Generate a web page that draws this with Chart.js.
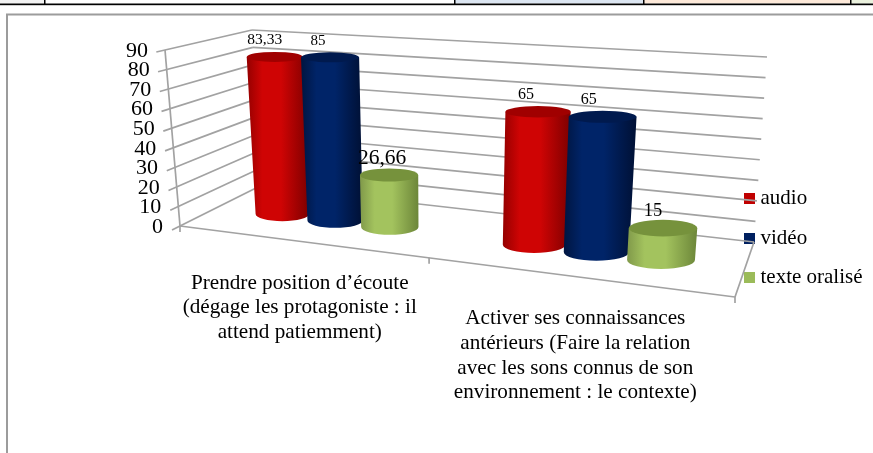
<!DOCTYPE html>
<html><head><meta charset="utf-8">
<style>html,body{margin:0;padding:0;background:#fff;overflow:hidden}canvas{display:block}</style>
<script src="https://cdn.jsdelivr.net/npm/chart.js@4"></script>
</head><body><canvas id="c" width="873" height="453"></canvas>
<script>
const categories = [
  ["Prendre position d’écoute", "(dégage les protagoniste : il", "attend patiemment)"],
  ["Activer ses connaissances", "antérieurs (Faire la relation", "avec les sons connus de son", "environnement : le contexte)"]
];
const audio = [83.33, 65];
const video = [85, 65];
const texteOralise = [26.66, 15];
const seriesNames = ["audio", "vidéo", "texte oralisé"];
const yTicks = [0,10,20,30,40,50,60,70,80,90];

// styles
const serif = "'Liberation Serif'";
const solid = ["#C00000", "#002060", "#9BBB59"];
const shade = [
  {edgeL:"#950000", mid:"#cf0404", edgeR:"#7d0000", lid:"#a00000"},
  {edgeL:"#001540", mid:"#002468", edgeR:"#001034", lid:"#001a4e"},
  {edgeL:"#80994a", mid:"#a3c35e", edgeR:"#6c8639", lid:"#76923c"}
];
const valueLabelSizes = [[15.5,16],[15,16],[21.5,18.5]];
const valueLabelDx = [[-10,-12],[-12,-14],[-7,-10]];
const gridColor = "#a2a2a2";

// perspective box corners
const box = {
  A:[180,226], B:[735,297], C:[260,186], D:[754,242],
  G:[165,50],  H:[755,91],  E:[252,30],  F:[767,57]
};
const warp = u => u/(1+0.18*(1-u));
function project(u,v,w){
  const t = warp(u);
  const mix=(a,b,k)=>[a[0]+(b[0]-a[0])*k,a[1]+(b[1]-a[1])*k];
  const frontBot=mix(box.A,box.B,t), backBot=mix(box.C,box.D,t);
  const frontTop=mix(box.G,box.H,t), backTop=mix(box.E,box.F,t);
  return mix(mix(frontBot,backBot,w),mix(frontTop,backTop,w),v);
}
const BAR_DEPTH=0.49, BAR_DW=0.17;

function line(ctx,a,b){ctx.beginPath();ctx.moveTo(a[0],a[1]);ctx.lineTo(b[0],b[1]);ctx.stroke();}

function swatch(color){
  const c=document.createElement("canvas");c.width=11;c.height=11;
  const g=c.getContext("2d");g.fillStyle=color;g.fillRect(0,0,11,11);
  return c;
}
const swatches=solid.map(swatch);

function drawCylinder(ctx,uL,uR,v,s){
  const bl=project(uL,0,BAR_DEPTH), br=project(uR,0,BAR_DEPTH);
  const tl=project(uL,v,BAR_DEPTH), tr=project(uR,v,BAR_DEPTH);
  const uC=(uL+uR)/2;
  const by=(bl[1]+br[1])/2, ty=(tl[1]+tr[1])/2;
  const bx=(bl[0]+br[0])/2, tx=(tl[0]+tr[0])/2;
  const brx=(br[0]-bl[0])/2, trx=(tr[0]-tl[0])/2;
  const bry=Math.abs(project(uC,0,BAR_DEPTH+BAR_DW)[1]-project(uC,0,BAR_DEPTH-BAR_DW)[1])/2;
  const tryy=Math.max(5,Math.abs(project(uC,v,BAR_DEPTH+BAR_DW)[1]-project(uC,v,BAR_DEPTH-BAR_DW)[1])/2);
  const g=ctx.createLinearGradient(Math.min(bx-brx,tx-trx),0,Math.max(bx+brx,tx+trx),0);
  g.addColorStop(0,s.edgeL);g.addColorStop(0.25,s.mid);g.addColorStop(0.55,s.mid);g.addColorStop(1,s.edgeR);
  ctx.beginPath();
  ctx.moveTo(tx-trx,ty);
  ctx.lineTo(tx+trx,ty);
  ctx.lineTo(bx+brx,by);
  ctx.ellipse(bx,by,brx,bry,0,0,Math.PI,false);
  ctx.closePath();
  ctx.fillStyle=g;ctx.fill();
  ctx.beginPath();
  ctx.ellipse(tx,ty,trx,tryy,0,0,Math.PI*2);
  ctx.fillStyle=s.lid;ctx.fill();
  return [tx,ty];
}

const perspective = {
  id:"perspective",
  afterLayout(chart){
    const x=chart.scales.x, y=chart.scales.y;
    y.getLabelItems(chart.chartArea).forEach((it,i)=>{
      const v=(y.bottom-y.getPixelForTick(i))/(y.bottom-y.top);
      const p=project(0,v,0);
      it.options.translation=[p[0]-17,p[1]+1];
    });
    x.getLabelItems(chart.chartArea).forEach((it,i)=>{
      const u=(x.getPixelForTick(i)-x.left)/(x.right-x.left);
      const p=project(u,0,0);
      const t=it.options.translation;
      it.options.translation=[p[0]+(i===0?-2.5:-3),t[1]-y.bottom+p[1]+21];
    });
    const lg=chart.legend;
    const dx=749-(lg.left+lg.options.labels.padding);
    lg.left+=dx;lg.right+=dx;
  },
  beforeDraw(chart){
    const ctx=chart.ctx;
    ctx.save();
    // table strip above the chart frame
    ctx.fillStyle="#f2f2f2";ctx.fillRect(0,0,44,3.5);
    ctx.fillStyle="#dbe5f1";ctx.fillRect(455,0,188,3.5);
    ctx.fillStyle="#fde9d9";ctx.fillRect(643,0,207,3.5);
    ctx.fillStyle="#eaf1dd";ctx.fillRect(850,0,23,3.5);
    ctx.fillStyle="#000";
    ctx.fillRect(0,3.5,873,1.7);
    [44,454,643,850].forEach(px=>ctx.fillRect(px,0,1.5,4));
    // chart frame
    ctx.strokeStyle="#9c9c9c";ctx.lineWidth=2;
    ctx.beginPath();ctx.moveTo(7,453);ctx.lineTo(7,14.5);ctx.lineTo(873,14.5);ctx.stroke();
    ctx.restore();
  },
  beforeDatasetsDraw(chart){
    const ctx=chart.ctx,x=chart.scales.x,y=chart.scales.y;
    ctx.save();
    ctx.strokeStyle=gridColor;ctx.lineWidth=1.7;ctx.lineCap="butt";
    y.ticks.forEach(t=>{
      const v=(y.bottom-y.getPixelForValue(t.value))/(y.bottom-y.top);
      line(ctx,project(0,v,-0.1),project(0,v,1));
      line(ctx,project(0,v,1),project(1,v,1));
    });
    line(ctx,project(0,0,0),project(0,1,0));
    line(ctx,project(0,0,0),project(1,0,0));
    line(ctx,project(1,0,0),project(1,0,1));
    [0,0.49,1].forEach(u=>{const p=project(u,0,0);line(ctx,p,[p[0],p[1]+6]);});

    // cylinders, drawn from the bar elements the library laid out
    const labels=[];
    for(let c=0;c<categories.length;c++){
      chart.data.datasets.forEach((ds,d)=>{
        const el=chart.getDatasetMeta(d).data[c];
        const uL=(el.x-el.width/2-x.left)/(x.right-x.left);
        const uR=(el.x+el.width/2-x.left)/(x.right-x.left);
        const v=(y.bottom-el.y)/(y.bottom-y.top);
        const top=drawCylinder(ctx,uL,uR,v,shade[d]);
        labels.push({t:String(ds.data[c]).replace(".",","),p:top,s:valueLabelSizes[d][c],dx:valueLabelDx[d][c]});
      });
    }
    ctx.fillStyle="#000";ctx.textAlign="center";ctx.textBaseline="middle";
    labels.forEach(l=>{
      ctx.font=l.s+"px "+serif;
      ctx.fillText(l.t,l.p[0]+l.dx,l.p[1]-16.5);
    });
    ctx.restore();
    return false;
  }
};

Chart.defaults.font.family=serif;
new Chart(document.getElementById("c"),{
  type:"bar",
  data:{labels:categories,datasets:[
    {label:seriesNames[0],data:audio,backgroundColor:solid[0]},
    {label:seriesNames[1],data:video,backgroundColor:solid[1]},
    {label:seriesNames[2],data:texteOralise,backgroundColor:solid[2]}
  ]},
  options:{
    responsive:false,animation:false,
    layout:{padding:{top:50,bottom:27,left:0,right:0}},
    datasets:{bar:{categoryPercentage:0.67,barPercentage:1.03}},
    plugins:{
      title:{display:false},tooltip:{enabled:false},
      legend:{position:"right",labels:{usePointStyle:true,pointStyleWidth:1,boxHeight:11,padding:18.5,color:"#000",font:{size:21},
        generateLabels(chart){
          const items=Chart.defaults.plugins.legend.labels.generateLabels(chart);
          items.forEach((it,i)=>{it.pointStyle=swatches[i];});
          return items;
        }}}
    },
    scales:{
      x:{grid:{display:false},border:{display:false},
         ticks:{color:"#000",font:{size:21.2,lineHeight:1.17},maxRotation:0,minRotation:0,autoSkip:false,padding:0},
         afterFit(s){s.height=200;}},
      y:{min:0,max:90,grid:{display:false},border:{display:false},
         afterBuildTicks(s){s.ticks=yTicks.map(value=>({value}));},
         ticks:{color:"#000",font:{size:22},padding:4,autoSkip:false},
         afterFit(s){s.width=180;}}
    }
  },
  plugins:[perspective]
});
</script></body></html>
